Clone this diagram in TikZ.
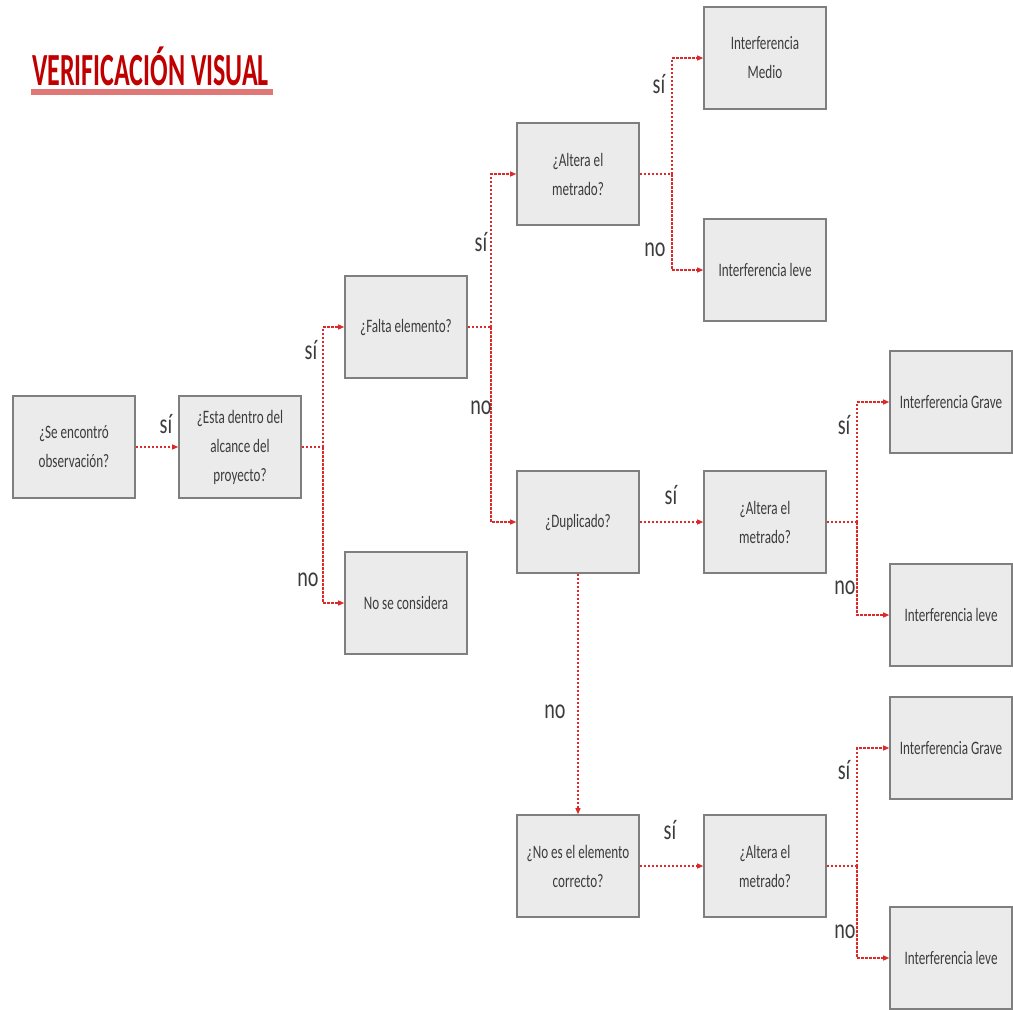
\documentclass[tikz,border=0pt]{standalone}
\usepackage{fontspec}
\usepackage{graphicx}
\setmainfont{Carlito}
\usetikzlibrary{arrows.meta}
\definecolor{boxfill}{HTML}{EBEBEB}
\definecolor{boxline}{HTML}{7F7F7F}
\definecolor{txt}{HTML}{3C3C3C}
\definecolor{conn}{HTML}{DC2A2A}
\definecolor{ttl}{HTML}{C00000}
\definecolor{ttlline}{HTML}{E07878}
\newcommand{\cz}[1]{\scalebox{0.69}[1]{#1}}
\newcommand{\czl}[1]{\scalebox{0.72}[1]{#1}}
\tikzset{
  stepbox/.style={draw=boxline, line width=1.6pt, fill=boxfill, minimum width=122pt, minimum height=102pt,
    align=center, font=\fontsize{19}{29}\selectfont, text=txt, inner sep=2pt},
  conline/.style={draw=conn, line width=1.1pt, dash pattern=on 2.5pt off 1.5pt},
  conarrow/.style={conline, -{Triangle[length=6pt,width=5pt]}},
  lbl/.style={font=\fontsize{28}{30}\selectfont, text=txt, inner sep=0pt}
}
\begin{document}
\begin{tikzpicture}[x=1pt,y=-1pt]
\useasboundingbox (0,0) rectangle (1013,1010);
% title
\node[anchor=base west, inner sep=0pt, font=\bfseries\fontsize{46}{50}\selectfont, text=ttl] (title) at (32,85) {\scalebox{0.565}[1]{VERIFICACIÓN VISUAL}};
\fill[ttlline] (31,89) rectangle (273,95);
% boxes
\node[stepbox] (A) at (74,447) {\cz{¿Se encontró}\\\cz{observación?}};
\node[stepbox] (B) at (240,447) {\cz{¿Esta dentro del}\\\cz{alcance del}\\\cz{proyecto?}};
\node[stepbox] (C) at (406,327) {\cz{¿Falta elemento?}};
\node[stepbox] (D) at (406,603) {\cz{No se considera}};
\node[stepbox] (E) at (578,174) {\cz{¿Altera el}\\\cz{metrado?}};
\node[stepbox] (F) at (765,58) {\cz{Interferencia}\\\cz{Medio}};
\node[stepbox] (G) at (765,270) {\cz{Interferencia leve}};
\node[stepbox] (H) at (578,522) {\cz{¿Duplicado?}};
\node[stepbox] (I) at (765,522) {\cz{¿Altera el}\\\cz{metrado?}};
\node[stepbox] (J) at (951,402) {\cz{Interferencia Grave}};
\node[stepbox] (K) at (951,615) {\cz{Interferencia leve}};
\node[stepbox] (L) at (578,866) {\cz{¿No es el elemento}\\\cz{correcto?}};
\node[stepbox] (M) at (765,866) {\cz{¿Altera el}\\\cz{metrado?}};
\node[stepbox] (N) at (951,748) {\cz{Interferencia Grave}};
\node[stepbox] (O) at (951,958) {\cz{Interferencia leve}};
% junctions
\coordinate (j1) at (323,447);
\coordinate (j2) at (491,327);
\coordinate (j3) at (672,174);
\coordinate (j4) at (857,522);
\coordinate (j5) at (857,866);
% connectors
\draw[conarrow] (A) -- (B);
\draw[conline] (B.east) -- (j1);
\draw[conarrow] (j1) |- (C.west);
\draw[conarrow] (j1) |- (D.west);
\draw[conline] (C.east) -- (j2);
\draw[conarrow] (j2) |- (E.west);
\draw[conarrow] (j2) |- (H.west);
\draw[conline] (E.east) -- (j3);
\draw[conarrow] (j3) |- (F.west);
\draw[conarrow] (j3) |- (G.west);
\draw[conarrow] (H) -- (I);
\draw[conline] (I.east) -- (j4);
\draw[conarrow] (j4) |- (J.west);
\draw[conarrow] (j4) |- (K.west);
\draw[conarrow] (H) -- (L);
\draw[conarrow] (L) -- (M);
\draw[conline] (M.east) -- (j5);
\draw[conarrow] (j5) |- (N.west);
\draw[conarrow] (j5) |- (O.west);
% labels
\node[lbl] (l1) at (166,424) {\czl{sí}};
\node[lbl] (l2) at (311,350) {\czl{sí}};
\node[lbl] (l3) at (308,580) {\czl{no}};
\node[lbl] (l4) at (481,242) {\czl{sí}};
\node[lbl] (l5) at (481,408) {\czl{no}};
\node[lbl] (l6) at (659,84) {\czl{sí}};
\node[lbl] (l7) at (655,250) {\czl{no}};
\node[lbl] (l8) at (671,495) {\czl{sí}};
\node[lbl] (l9) at (844,425) {\czl{sí}};
\node[lbl] (l10) at (845,588) {\czl{no}};
\node[lbl] (l11) at (555,712) {\czl{no}};
\node[lbl] (l12) at (670,830) {\czl{sí}};
\node[lbl] (l13) at (844,770) {\czl{sí}};
\node[lbl] (l14) at (845,932) {\czl{no}};
\end{tikzpicture}
\end{document}
